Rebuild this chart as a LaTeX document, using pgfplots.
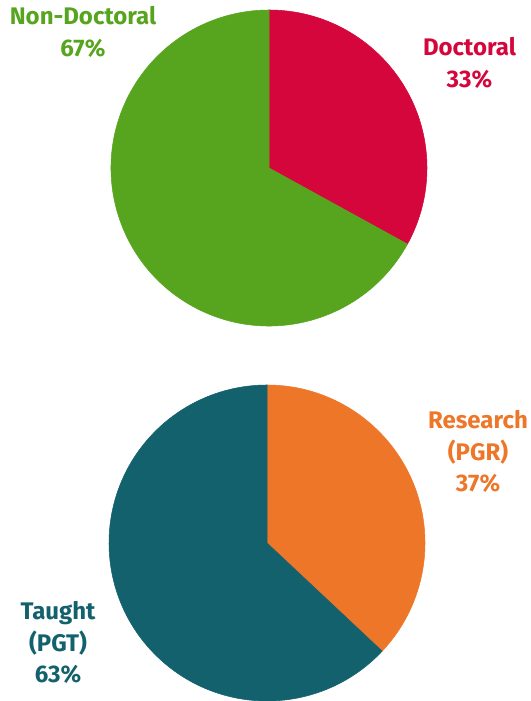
\documentclass[border=0pt]{standalone}
\usepackage{pgfplots}
\pgfplotsset{compat=1.18}
\usepackage{pgfplotstable}
\usepackage{fontspec}
\setmainfont{Fira Sans}
\definecolor{cgreen}{HTML}{57A51E}
\definecolor{cred}{HTML}{D5063C}
\definecolor{corange}{HTML}{EE7628}
\definecolor{cteal}{HTML}{13616D}
% slices: start = cumulative share before the slice (percent), value = share (percent)
\pgfplotstableread{
name start value
Doctoral 0 33
NonDoctoral 33 67
}\tabA
\pgfplotstableread{
name start value
Research 0 37
Taught 37 63
}\tabB
\pgfplotsset{
  pieslice/.style n args={3}{% row, colour, radius
    scatter, only marks, mark=*, mark size=0pt, mark options={draw=none,fill=none},
    point meta=explicit,
    visualization depends on={90-3.6*\thisrow{start} \as \sa},
    visualization depends on={90-3.6*(\thisrow{start}+\thisrow{value}) \as \ea},
    scatter/@pre marker code/.code={%
      \fill[#2] (0,0) -- (\sa:#3) arc[start angle=\sa, end angle=\ea, radius=#3] -- cycle;},
    scatter/@post marker code/.code={},
    skip coords between index={0}{#1},
    skip coords between index={\numexpr#1+1\relax}{10},
  },
}
\begin{document}
\begin{tikzpicture}
\useasboundingbox (0,0) rectangle (398.25pt,525.75pt);
\begin{axis}[
  scale only axis, width=398.25pt, height=525.75pt,
  xmin=0, xmax=531, ymin=0, ymax=701,
  hide axis, clip=false,
]
\addplot[pieslice={0}{cred}{118.5pt}] table[x expr=269, y expr=533, meta expr=0] {\tabA};
\addplot[pieslice={1}{cgreen}{118.5pt}] table[x expr=269, y expr=533, meta expr=0] {\tabA};
\addplot[pieslice={0}{corange}{118.5pt}] table[x expr=267, y expr=158, meta expr=0] {\tabB};
\addplot[pieslice={1}{cteal}{118.5pt}] table[x expr=267, y expr=158, meta expr=0] {\tabB};

\begin{scope}[every node/.style={font=\fontsize{18}{24}\selectfont\bfseries, align=center, inner sep=0pt, anchor=base}]
\node[text=cgreen] at (axis cs:83,644) {Non-Doctoral\\67\%};
\node[text=cred] at (axis cs:469.5,613) {Doctoral\\33\%};
\node[text=corange] at (axis cs:478,209) {Research\\(PGR)\\37\%};
\node[text=cteal] at (axis cs:58,18) {Taught\\(PGT)\\63\%};
\end{scope}
\end{axis}
\end{tikzpicture}
\end{document}
